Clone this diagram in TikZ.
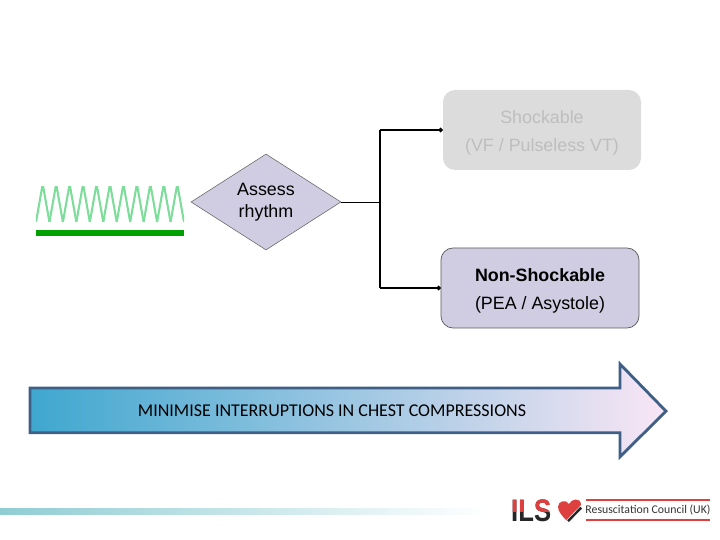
\documentclass[tikz,border=0pt]{standalone}
\usepackage{fontspec}
\setmainfont{Liberation Sans}
\newfontfamily\bannerfont{Carlito}
\usetikzlibrary{arrows.meta,shapes.geometric}
\definecolor{boxlilac}{HTML}{D0CDE2}
\definecolor{boxgrey}{HTML}{DCDCDC}
\definecolor{textgrey}{HTML}{BEBEBE}
\definecolor{wavegreen}{HTML}{7FDD9C}
\definecolor{bargreen}{HTML}{00A000}
\definecolor{arrowedge}{HTML}{3F5F86}
\definecolor{arrowleft}{HTML}{3FA7CF}
\definecolor{arrowmid}{HTML}{A8C3DE}
\definecolor{arrowright}{HTML}{F9E6F5}
\definecolor{footerteal}{HTML}{8FCDD3}
\definecolor{logored}{HTML}{DE4040}
\tikzset{
    stepbox/.style={rounded corners=0.3cm,minimum width=4.95cm,minimum height=2cm,
        align=center,font=\fontsize{12.7}{20}\selectfont},
    feed/.style={line width=0.5pt},
    branch/.style={line width=1.4pt,-{Circle[length=3pt]}},
    ilstext/.style={font=\bfseries\fontsize{22}{22}\selectfont,inner sep=0pt,xscale=0.83,transform shape},
}
\begin{document}
\begin{tikzpicture}
    \useasboundingbox (0,0) rectangle (18,13.5);
    % rhythm strip
    \begin{scope}
        \clip (0.90,7.80) rectangle (4.60,8.83);
        \foreach \i in {0,...,10} {
            \draw [wavegreen,line width=1.5pt,line join=miter]
                (0.90+0.3364*\i,7.95) -- (1.068+0.3364*\i,8.90) -- (1.236+0.3364*\i,7.95);
        }
    \end{scope}
    \fill [bargreen] (0.90,7.60) rectangle (4.60,7.75);
    % decision and branches
    \node (assess) [diamond,draw=black!60,line width=0.4pt,fill=boxlilac,inner sep=0pt,
        minimum width=3.75cm,minimum height=2.40cm,align=center,
        font=\fontsize{12.7}{15.5}\selectfont] at (6.65,8.45) {Assess\\rhythm};
    \node (shock) [stepbox,fill=boxgrey,text=textgrey] at (13.55,10.25)
        {\rule{0pt}{13pt}Shockable\\(VF / Pulseless VT)};
    \node (nonshock) [stepbox,fill=boxlilac,draw=black!65,line width=0.5pt] at (13.50,6.30)
        {\rule{0pt}{13pt}\textbf{Non-Shockable}\\(PEA / Asystole)};
    \coordinate (split) at (9.50,8.45);
    \coordinate (split_top) at (9.50,10.25);
    \coordinate (split_bot) at (9.50,6.30);
    \draw [feed] (assess.east) -- (split);
    \draw [line width=0.8pt] (split_top) -- (split_bot);
    \draw [branch] (split_top) -- (shock.west);
    \draw [branch] (split_bot) -- (nonshock.west);
    % banner arrow
    \path [draw=arrowedge,line width=2pt,line join=miter,left color=arrowleft,
        middle color=arrowmid,right color=arrowright]
        (0.75,2.68) -- (15.50,2.68) -- (15.50,2.08) -- (16.65,3.22) -- (15.50,4.40)
        -- (15.50,3.80) -- (0.75,3.80) -- cycle;
    \node (banner) [font=\bannerfont\fontsize{12.8}{14}\selectfont] at (8.30,3.22)
        {MINIMISE INTERRUPTIONS IN CHEST COMPRESSIONS};
    % footer
    \shade [left color=footerteal,right color=white] (0,0.65) rectangle (12.20,0.78);
    \node (ils) [ilstext,text=black!85] at (13.28,0.725) {ILS};
    \begin{scope}
        \clip (12.70,0.72) rectangle (13.95,1.10);
        \node [ilstext,text=logored] at (ils) {ILS};
    \end{scope}
    \fill [logored] (14.175,0.475) .. controls (14.05,0.60) and (13.95,0.72) .. (13.95,0.83)
        .. controls (13.95,0.97) and (14.15,1.03) .. (14.225,0.90)
        .. controls (14.28,1.03) and (14.525,1.08) .. (14.525,0.875)
        .. controls (14.525,0.75) and (14.30,0.55) .. (14.175,0.475) -- cycle;
    \draw [white,line width=2.6pt] (14.19,0.46) -- (14.56,0.84);
    \draw [black!85,line width=1.7pt] (14.20,0.47) -- (14.53,0.81);
    \draw [logored,line width=0.8pt] (14.65,1.00) -- (17.75,1.00);
    \draw [logored,line width=0.8pt] (14.65,0.50) -- (17.75,0.50);
    \node (council) [font=\bannerfont\fontsize{8.4}{10}\selectfont,text=black!80,inner sep=0pt]
        at (16.20,0.74) {Resuscitation Council (UK)};
\end{tikzpicture}
\end{document}
